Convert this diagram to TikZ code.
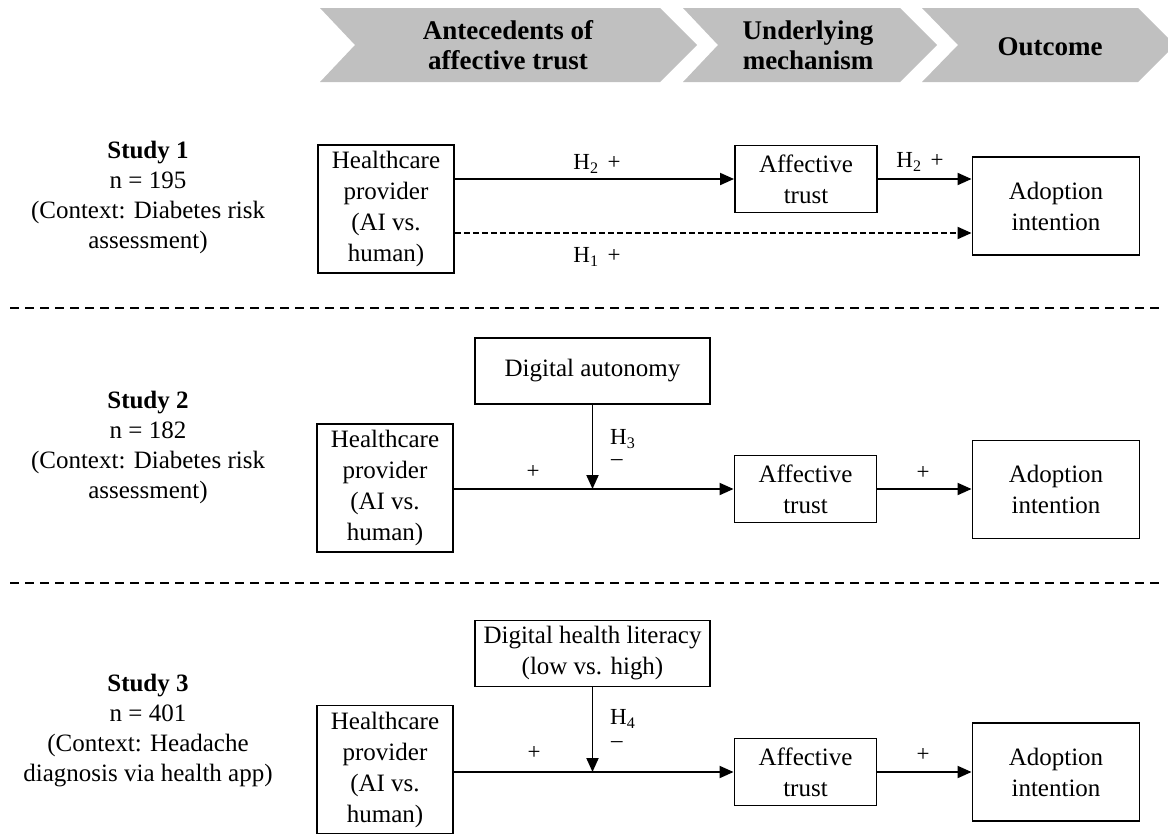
\documentclass[tikz,border=0pt]{standalone}
\usepackage{fontspec}
\setmainfont{Liberation Serif}
\usetikzlibrary{arrows.meta}
\definecolor{chevgray}{RGB}{192,192,192}
\newcommand\bodyfont{\fontsize{25}{31}\selectfont}
\newcommand\sidefont{\fontsize{25}{30}\selectfont}
\newcommand\labfont{\fontsize{23}{26}\selectfont}
\newcommand\headfont{\fontsize{27}{30}\selectfont\bfseries}
\newcommand\hyp[1]{H\textsubscript{#1}\hspace{9pt}+}

\begin{document}
\begin{tikzpicture}[x=1pt,y=-1pt,
  box/.style={draw, line width=1.9pt, inner sep=0pt, align=center, font=\bodyfont},
  hcbox/.style={box, minimum width=136pt, minimum height=128pt},
  atbox/.style={box, minimum width=142pt, minimum height=67pt},
  adbox/.style={box, minimum width=167pt, minimum height=98pt},
  modbox/.style={box, minimum width=235pt, minimum height=66pt},
  arr/.style={line width=1.9pt, -{Triangle[length=14pt,width=12pt]}},
  lab/.style={font=\labfont, inner sep=0pt},
  side/.style={align=center, font=\sidefont, inner sep=0pt},
  head/.style={align=center, font=\headfont, inner sep=0pt},
  chev/.style={fill=chevgray},
  sep/.style={line width=1.8pt, dash pattern=on 9pt off 6pt},
]
\useasboundingbox (0,0) rectangle (1168,836);

% ---- stage chevrons ----
\fill[chev] (320,8) -- (660,8) -- (697,45) -- (660,82) -- (320,82) -- (355,45) -- cycle;
\fill[chev] (683,8) -- (900,8) -- (937,45) -- (900,82) -- (683,82) -- (718,45) -- cycle;
\fill[chev] (922,8) -- (1138,8) -- (1175,45) -- (1138,82) -- (922,82) -- (958,45) -- cycle;
\node[head] (h1) at (508,45) {Antecedents of\\affective trust};
\node[head] (h2) at (808,45) {Underlying\\mechanism};
\node[head] (h3) at (1050,47) {Outcome};

% ---- study descriptions ----
\node[side] (s1) at (148,197) {\textbf{Study 1}\\n = 195\\(Context: Diabetes risk\\assessment)};
\node[side] (s2) at (148,447) {\textbf{Study 2}\\n = 182\\(Context: Diabetes risk\\assessment)};
\node[side] (s3) at (148,731) {\textbf{Study 3}\\n = 401\\(Context: Headache\\diagnosis via health app)};

% ---- separators ----
\draw[sep] (10,308) -- (1162,308);
\draw[sep] (10,583) -- (1162,583);

% ---- Study 1 ----
\node[hcbox] (hc1) at (386,209) {Healthcare\\provider\\(AI vs.\\human)};
\node[atbox] (at1) at (806,179) {Affective\\trust};
\node[adbox] (ad1) at (1056,206) {Adoption\\intention};
\draw[arr] (hc1.east |- at1.west) -- (at1.west);
\draw[arr] (at1.east) -- (at1.east -| ad1.west);
\draw[arr, dash pattern=on 6pt off 3pt] ([yshift=-24pt]hc1.east) coordinate (d1) -- (d1 -| ad1.west);
\node[lab] (l11) at (597,164) {\hyp{2}};
\node[lab] (l12) at (597,257) {\hyp{1}};
\node[lab] (l13) at (920,162) {\hyp{2}};

% ---- Study 2 ----
\node[modbox] (da2) at (592.5,371) {Digital autonomy};
\node[hcbox] (hc2) at (385,488) {Healthcare\\provider\\(AI vs.\\human)};
\node[atbox] (at2) at (805.5,489) {Affective\\trust};
\node[adbox] (ad2) at (1056,489.5) {Adoption\\intention};
\draw[arr] (hc2.east |- at2.west) -- (at2.west);
\draw[arr] (da2.south) -- (da2.south |- at2.west);
\draw[arr] (at2.east) -- (at2.east -| ad2.west);
\node[lab] (p21) at (533,472) {+};
\node[lab, anchor=west] (m21) at (610,439) {H\textsubscript{3}};
\node[lab, anchor=west] (m22) at (611,463) {–};
\node[lab] (p22) at (923,473) {+};

% ---- Study 3 ----
\node[modbox] (dh3) at (592.5,653.5) {Digital health literacy\\(low vs. high)};
\node[hcbox] (hc3) at (385,769.5) {Healthcare\\provider\\(AI vs.\\human)};
\node[atbox] (at3) at (805.5,772) {Affective\\trust};
\node[adbox] (ad3) at (1056,772) {Adoption\\intention};
\draw[arr] (hc3.east |- at3.west) -- (at3.west);
\draw[arr] (dh3.south) -- (dh3.south |- at3.west);
\draw[arr] (at3.east) -- (at3.east -| ad3.west);
\node[lab] (p31) at (534,753) {+};
\node[lab, anchor=west] (m31) at (610,719) {H\textsubscript{4}};
\node[lab, anchor=west] (m32) at (611,745) {–};
\node[lab] (p32) at (923,755) {+};
\end{tikzpicture}
\end{document}
